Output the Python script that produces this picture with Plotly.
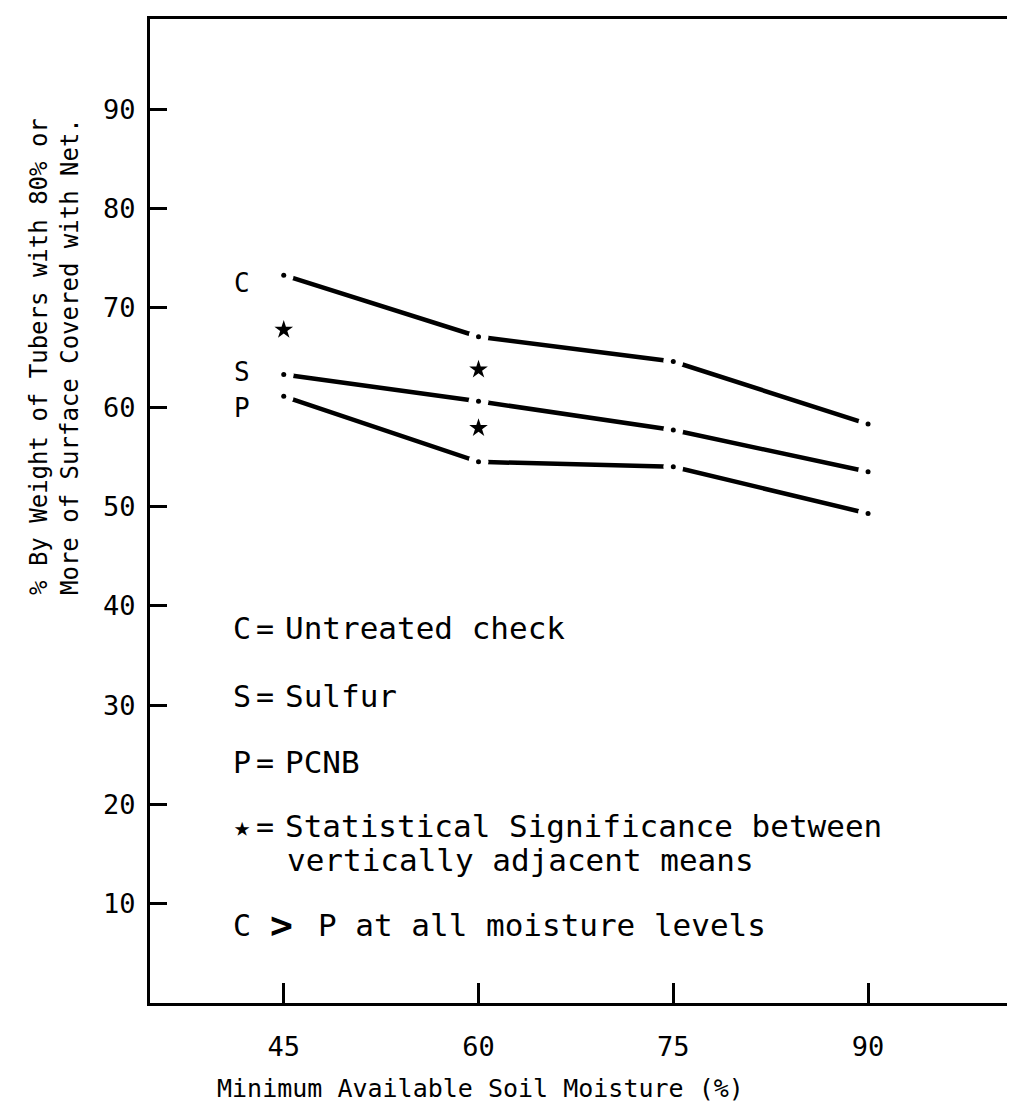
import plotly.graph_objects as go

# ---- data ----
moisture = [45, 60, 75, 90]
untreated_check = [73.3, 67.1, 64.6, 58.3]   # C
sulfur = [63.3, 60.6, 57.7, 53.5]            # S
pcnb = [61.1, 54.5, 54.0, 49.3]              # P

series_names = ["C", "S", "P"]
series_values = [untreated_check, sulfur, pcnb]
# (vertical anchor, pixel shift) for the series labels at the left of the lines
series_label_pos = [("middle", -8), ("bottom", -15), ("top", 5)]

# significance stars between vertically adjacent means
sig_x = [45, 60, 60]
sig_y = [67.8, 63.8, 57.9]

x_ticks = [45, 60, 75, 90]
y_ticks = [10, 20, 30, 40, 50, 60, 70, 80, 90]

FONT = "DejaVu Sans Mono"

# page body has an 8px margin; plot area spans px 150..1007 x 19..1003
W, H = 999, 1097
ML, MT, MB = 142, 11, 102
PW = W - ML
PH = H - MT - MB


def px(X):
    return (X - 150) / PW


def py(Y):
    return (1003 - Y) / PH


fig = go.Figure()

for vals in series_values:
    fig.add_trace(go.Scatter(x=moisture, y=vals, mode="lines",
                             line=dict(color="black", width=4.5),
                             hoverinfo="skip", showlegend=False))
for vals in series_values:
    fig.add_trace(go.Scatter(x=moisture, y=vals, mode="markers",
                             marker=dict(color="white", size=20, line=dict(width=0)),
                             hoverinfo="skip", showlegend=False))
for vals in series_values:
    fig.add_trace(go.Scatter(x=moisture, y=vals, mode="markers",
                             marker=dict(color="black", size=5, line=dict(width=0)),
                             hoverinfo="skip", showlegend=False))
fig.add_trace(go.Scatter(x=sig_x, y=sig_y, mode="markers",
                         marker=dict(symbol="star", color="black", size=14, line=dict(width=0)),
                         hoverinfo="skip", showlegend=False))


def txt(x, y, text, size=31, anchor="left", yref="paper", yshift=0, yanchor="middle"):
    return dict(xref="paper", yref=yref, x=x, y=y, yshift=yshift, text=text,
                showarrow=False, xanchor=anchor, yanchor=yanchor,
                font=dict(family=FONT, size=size, color="black"))


annotations = []
for name, vals, (ya, ys) in zip(series_names, series_values, series_label_pos):
    annotations.append(txt(px(242), vals[0], name, size=26, anchor="center", yref="y",
                           yshift=ys, yanchor=ya))

key_rows = [
    ("C", "Untreated check", 628),
    ("S", "Sulfur", 696),
    ("P", "PCNB", 762),
    ("★", "Statistical Significance between", 826),
]
for sym, label, Y in key_rows:
    annotations.append(txt(px(242), py(Y), sym, size=30 if sym != "★" else 27, anchor="center"))
    annotations.append(txt(px(265), py(Y), "=", size=30, anchor="center"))
    annotations.append(txt(px(283), py(Y), label))
annotations.append(txt(px(285), py(860), "vertically adjacent means"))
annotations.append(txt(px(242), py(925), "C", size=30, anchor="center"))
annotations.append(txt(px(281), py(925), "<b>&gt;</b>", size=38, anchor="center"))
annotations.append(txt(px(316), py(925), "P at all moisture levels"))

annotations.append(txt(px(480), py(1088), "Minimum Available Soil Moisture (%)", size=25,
                       anchor="center"))
annotations.append(dict(xref="paper", yref="paper", x=px(54), y=py(357),
                        text="% By Weight of Tubers with 80% or<br>More of Surface Covered with Net.",
                        showarrow=False, textangle=-90, xanchor="center", yanchor="middle",
                        align="center", font=dict(family=FONT, size=24, color="black")))

fig.update_layout(
    width=W, height=H,
    margin=dict(l=ML, r=0, t=MT, b=MB),
    plot_bgcolor="white", paper_bgcolor="white",
    font=dict(family=FONT, color="black"),
    showlegend=False,
    annotations=annotations,
    xaxis=dict(range=[34.7, 100.7], tickvals=x_ticks, ticktext=[str(v) for v in x_ticks],
               showgrid=False, zeroline=False, showline=True, linecolor="black", linewidth=3,
               mirror=True, ticks="inside", ticklen=20, tickwidth=3, tickcolor="black",
               tickfont=dict(family=FONT, size=27, color="black"), ticklabelstandoff=18),
    yaxis=dict(range=[0, 99.1], tickvals=y_ticks, ticktext=[str(v) for v in y_ticks],
               showgrid=False, zeroline=False, showline=True, linecolor="black", linewidth=3,
               ticks="inside", ticklen=17, tickwidth=3, tickcolor="black",
               tickfont=dict(family=FONT, size=27, color="black"), ticklabelstandoff=6),
)

fig.write_html("out.html")
